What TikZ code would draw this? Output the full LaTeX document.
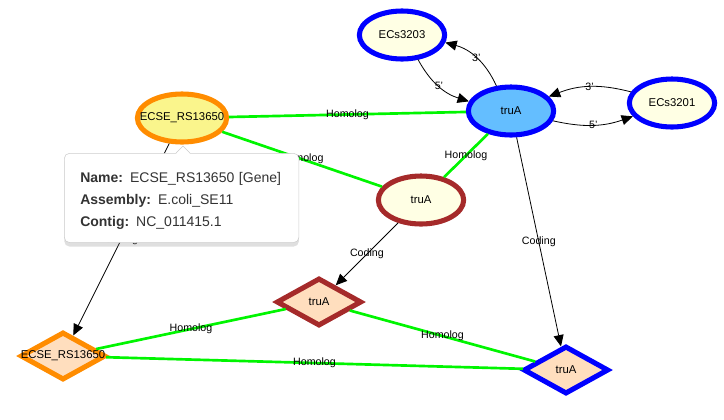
\documentclass[tikz,border=0pt]{standalone}
\usepackage{fontspec}
\setmainfont{Liberation Sans}
\newfontfamily\tipfont{Liberation Sans}
\usepackage{tikz}
\usetikzlibrary{shapes,shadows}
\usetikzlibrary{arrows.meta}
\definecolor{geneblue}{RGB}{0,0,255}
\definecolor{genefill}{RGB}{100,190,255}
\definecolor{paleyel}{RGB}{255,255,228}
\definecolor{yelfill}{RGB}{250,245,140}
\definecolor{orng}{RGB}{255,140,0}
\definecolor{brwn}{RGB}{165,42,42}
\definecolor{peach}{RGB}{255,222,190}
\definecolor{homgreen}{RGB}{0,245,0}
\definecolor{tipgray}{RGB}{51,51,51}

\begin{document}
\begin{tikzpicture}[x=.75pt,y=-.75pt,
  gene/.style={ellipse,line width=3.8pt,inner sep=-8pt,minimum width=64pt,
    minimum height=36pt,font=\fontsize{8.5}{9}\selectfont},
  cds/.style={diamond,line width=3.8pt,inner sep=0pt,minimum width=64pt,
    minimum height=36pt,fill=peach},
  cdstext/.style={font=\fontsize{8.5}{9}\selectfont},
  hom/.style={homgreen,line width=2pt},
  cod/.style={-{Triangle[length=8.5pt,width=7.5pt]},black,line width=.6pt},
  lbl/.style={font=\fontsize{8}{9}\selectfont}]
\useasboundingbox (0,0) rectangle (724,419);
% genes
\node[gene,draw=geneblue,fill=paleyel] (ec3203) at (402,35) {ECs3203};
\node[gene,draw=geneblue,fill=genefill] (trua) at (511,111) {truA};
\node[gene,draw=geneblue,fill=paleyel] (ec3201) at (672,103) {ECs3201};
\node[gene,draw=orng,fill=yelfill] (ecse) at (182,118) {ECSE\_RS13650};
\node[gene,draw=brwn,fill=paleyel] (truab) at (421,200) {truA};
% coding sequences
\node[cds,draw=brwn,label={[cdstext]center:truA}] (dtrua) at (319,302) {};
\node[cds,draw=orng,label={[cdstext]center:ECSE\_RS13650}] (decse) at (63,356) {};
\node[cds,draw=geneblue,label={[cdstext]center:truA}] (dtruab) at (566,370) {};
%
\draw[hom] (ecse) -- node[lbl,black] {Homolog} (trua);
\draw[hom] (ecse) -- node[lbl,black] {Homolog} (truab);
\draw[hom] (trua) -- node[lbl,black] {Homolog} (truab);
\draw[hom] (decse) -- node[lbl,black] {Homolog} (dtrua);
\draw[hom] (dtrua) -- node[lbl,black] {Homolog} (dtruab);
\draw[hom] (decse) -- node[lbl,black] {Homolog} (dtruab);
%
\draw[cod] (trua) to[bend right=25] node[lbl] {3'} (ec3203);
\draw[cod] (ec3203) to[bend right=22] node[lbl] {5'} (trua);
\draw[cod] (ec3201) to[bend right=18] node[lbl] {3'} (trua);
\draw[cod] (trua) to[bend right=16] node[lbl] {5'} (ec3201);
\draw[cod] (truab) -- node[lbl] {Coding} (dtrua);
\draw[cod] (trua) -- node[lbl] {Coding} (dtruab);
\draw[cod] (ecse) -- node[lbl] {Coding} (decse);
% tooltip
\node[draw=gray!40,fill=white,rounded corners=4pt,line width=.4pt,
  drop shadow={opacity=.25,shadow xshift=0pt,shadow yshift=-3pt},
  minimum width=176pt,minimum height=67pt,text width=152pt,inner xsep=12pt,
  align=left,text=tipgray,font=\tipfont\fontsize{10.5}{16.2}\selectfont,
  anchor=north west] (tip) at (64,153)
  {\rule{0pt}{12pt}\textbf{Name:} ECSE\_RS13650 [Gene]\\\textbf{Assembly:} E.coli\_SE11\\\textbf{Contig:} NC\_011415.1};
\coordinate (ptr) at (183,146);
\fill[white] (176,153.8) -- (ptr) -- (190,153.8) -- cycle;
\draw[gray!40,line width=.4pt] (176,153) -- (ptr) -- (190,153);
\end{tikzpicture}
\end{document}
